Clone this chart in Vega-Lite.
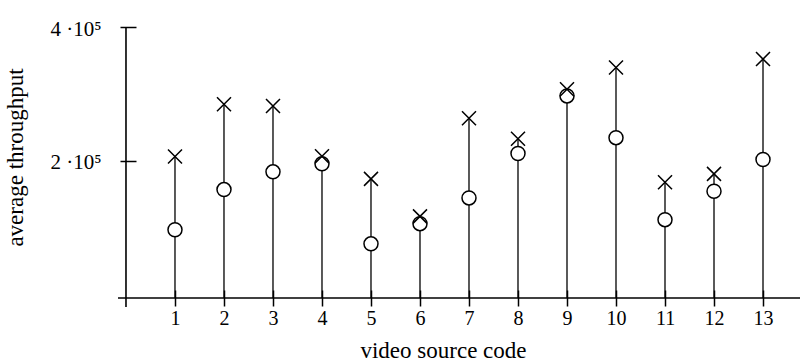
{
  "$schema": "https://vega.github.io/schema/vega-lite/v6.json",
  "width": 682,
  "height": 271,
  "autosize": {"type": "none"},
  "padding": {"left": 118, "top": 27, "right": 2, "bottom": 66},
  "background": "white",
  "config": {
    "view": {"stroke": null},
    "axis": {
      "grid": false,
      "domain": false,
      "labelFont": "Liberation Serif",
      "titleFont": "Liberation Serif",
      "labelColor": "black",
      "titleColor": "black",
      "tickColor": "black",
      "labelFontSize": 20,
      "titleFontSize": 23,
      "titleFontWeight": "normal",
      "tickWidth": 1.5,
      "labelOverlap": false
    }
  },
  "data": {
    "values": [
      {"code": 1, "cross": 206700, "circle": 97400},
      {"code": 2, "cross": 284600, "circle": 157300},
      {"code": 3, "cross": 282100, "circle": 183800},
      {"code": 4, "cross": 207200, "circle": 195800},
      {"code": 5, "cross": 173300, "circle": 76400},
      {"code": 6, "cross": 117300, "circle": 106400},
      {"code": 7, "cross": 263700, "circle": 144900},
      {"code": 8, "cross": 233300, "circle": 211200},
      {"code": 9, "cross": 307100, "circle": 297100},
      {"code": 10, "cross": 339600, "circle": 234800},
      {"code": 11, "cross": 168300, "circle": 112400},
      {"code": 12, "cross": 180800, "circle": 154800},
      {"code": 13, "cross": 352100, "circle": 202200}
    ]
  },
  "layer": [
    {
      "mark": {"type": "rule", "color": "black", "strokeWidth": 1.3},
      "encoding": {
        "x": {
          "field": "code",
          "type": "quantitative",
          "scale": {"domain": [-0.163, 13.755], "nice": false, "zero": false},
          "axis": {
            "orient": "bottom",
            "values": [1, 2, 3, 4, 5, 6, 7, 8, 9, 10, 11, 12, 13],
            "format": "d",
            "offset": -8,
            "tickSize": 16,
            "labelPadding": 2,
            "title": "video source code",
            "titlePadding": 11,
            "titleX": 325
          }
        },
        "y": {
          "field": "cross",
          "type": "quantitative",
          "scale": {"domain": [-4500, 400000], "nice": false, "zero": false},
          "axis": {
            "values": [200000, 400000],
            "labelExpr": "datum.value == 200000 ? '2 ·10⁵' : '4 ·10⁵'",
            "labelFontSize": 21,
            "labelOffset": 2,
            "offset": -18,
            "tickSize": 16,
            "labelPadding": 19,
            "title": "average throughput",
            "titlePadding": 22,
            "titleY": 130
          }
        },
        "y2": {"datum": -4500}
      }
    },
    {
      "data": {"values": [{}]},
      "mark": {"type": "rule", "color": "black", "strokeWidth": 1.6},
      "encoding": {
        "x": {"datum": 0, "type": "quantitative"},
        "y": {"datum": 400000, "type": "quantitative"},
        "y2": {"datum": -18000}
      }
    },
    {
      "data": {"values": [{}]},
      "mark": {"type": "rule", "color": "black", "strokeWidth": 1.6},
      "encoding": {
        "y": {"datum": -4500, "type": "quantitative"},
        "x": {"datum": -0.163, "type": "quantitative"},
        "x2": {"datum": 13.755}
      }
    },
    {
      "mark": {"type": "point", "shape": "circle", "filled": false, "fill": "white", "fillOpacity": 1, "stroke": "black", "strokeWidth": 1.5, "size": 196, "opacity": 1},
      "encoding": {
        "x": {"field": "code", "type": "quantitative"},
        "y": {"field": "circle", "type": "quantitative"}
      }
    },
    {
      "mark": {"type": "point", "shape": "M-1,-1L1,1M-1,1L1,-1", "filled": false, "stroke": "black", "strokeWidth": 1.5, "size": 196, "opacity": 1},
      "encoding": {
        "x": {"field": "code", "type": "quantitative"},
        "y": {"field": "cross", "type": "quantitative"}
      }
    }
  ]
}
